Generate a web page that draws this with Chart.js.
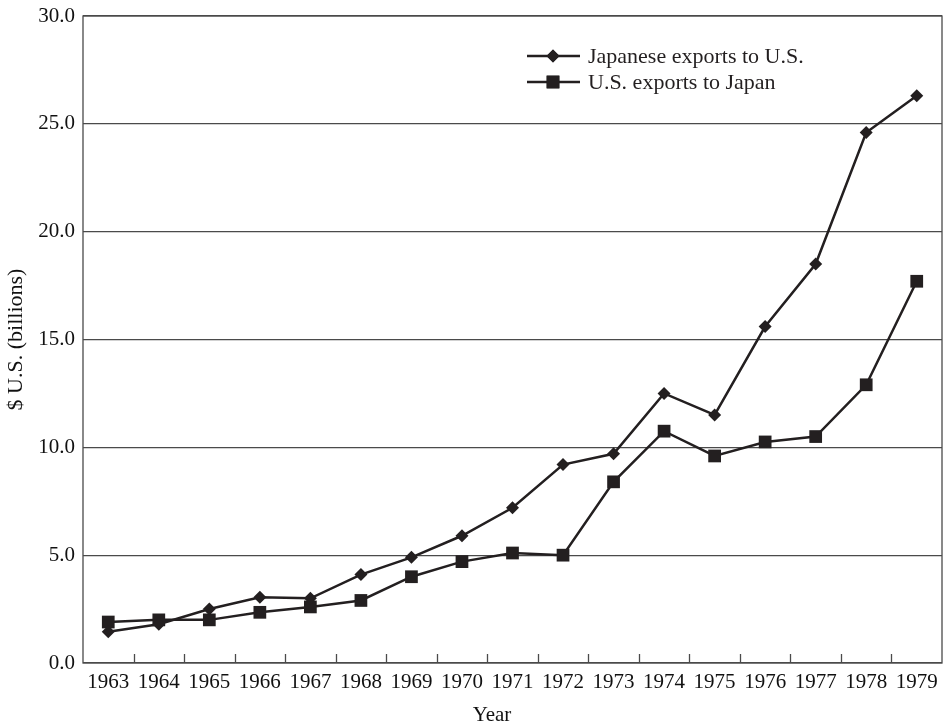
<!DOCTYPE html>
<html>
<head>
<meta charset="utf-8">
<script src="https://cdn.jsdelivr.net/npm/chart.js@4.4.0/dist/chart.umd.min.js"></script>
<style>
  html, body { margin: 0; padding: 0; background: #fff; }
</style>
</head>
<body>
<canvas id="grafico" width="951" height="725"></canvas>
<script>
// datos
const years = ["1963", "1964", "1965", "1966", "1967", "1968", "1969", "1970", "1971",
  "1972", "1973", "1974", "1975", "1976", "1977", "1978", "1979"];
const japanToUS = [1.45, 1.8, 2.5, 3.05, 3.0, 4.1, 4.9, 5.9, 7.2, 9.2, 9.7, 12.5, 11.5, 15.6, 18.5, 24.6, 26.3];
const usToJapan = [1.9, 2.0, 2.0, 2.35, 2.6, 2.9, 4.0, 4.7, 5.1, 5.0, 8.4, 10.75, 9.6, 10.25, 10.5, 12.9, 17.7];
const yTicks = [0, 5, 10, 15, 20, 25, 30];

const ink = "#231f20";
const frame = "#4a4a4a";
const serif = "'Liberation Serif', 'Times New Roman', serif";

// marco, marcas del eje x hacia adentro, titulo x y leyenda
const extras = {
  id: "extras",
  afterDatasetsDraw(chart) {
    const { ctx, chartArea: a, scales } = chart;
    ctx.save();
    ctx.strokeStyle = frame;
    ctx.lineWidth = 1.3;
    ctx.strokeRect(a.left, a.top, a.right - a.left, a.bottom - a.top);
    // marcas entre categorias
    for (let i = 1; i < years.length; i++) {
      const x = Math.round((scales.x.getPixelForValue(i - 1) + scales.x.getPixelForValue(i)) / 2) + 0.5;
      ctx.beginPath();
      ctx.moveTo(x, a.bottom);
      ctx.lineTo(x, a.bottom - 9);
      ctx.stroke();
    }
    // titulo del eje x
    ctx.fillStyle = "#111";
    ctx.font = "21px " + serif;
    ctx.textAlign = "center";
    ctx.textBaseline = "middle";
    ctx.fillText("Year", a.left + 409, a.bottom + 52);
    // leyenda
    ctx.textAlign = "left";
    const lx = a.left + 444, rows = [a.top + 40, a.top + 66];
    chart.data.datasets.forEach((ds, i) => {
      const y = rows[i];
      ctx.strokeStyle = ink;
      ctx.lineWidth = 2.5;
      ctx.beginPath();
      ctx.moveTo(lx, y);
      ctx.lineTo(lx + 53, y);
      ctx.stroke();
      ctx.fillStyle = ink;
      Chart.helpers.drawPoint(ctx, {
        pointStyle: ds.pointStyle, radius: ds.pointRadius, rotation: 0, borderWidth: 0
      }, lx + 26, y);
      ctx.fill();
      ctx.font = "22px " + serif;
      ctx.fillText(ds.label, lx + 61, y + 1);
    });
    ctx.restore();
  }
};

new Chart(document.getElementById("grafico").getContext("2d"), {
  type: "line",
  data: {
    labels: years,
    datasets: [
      {
        label: "Japanese exports to U.S.",
        data: japanToUS,
        borderColor: ink,
        backgroundColor: ink,
        borderWidth: 2.5,
        pointStyle: "rectRot",
        pointRadius: 6.5,
        pointBorderWidth: 0,
        tension: 0
      },
      {
        label: "U.S. exports to Japan",
        data: usToJapan,
        borderColor: ink,
        backgroundColor: ink,
        borderWidth: 2.5,
        pointStyle: "rect",
        pointRadius: 9,
        pointBorderWidth: 0,
        tension: 0
      }
    ]
  },
  options: {
    responsive: false,
    devicePixelRatio: 1,
    animation: false,
    layout: { padding: { top: 16, right: 8, left: 0, bottom: 0 } },
    plugins: {
      legend: { display: false },
      tooltip: { enabled: false }
    },
    scales: {
      x: {
        offset: true,
        grid: { display: false, drawTicks: false },
        border: { display: false },
        ticks: { color: "#111", padding: 7, maxRotation: 0, autoSkip: false, font: { family: serif, size: 21 } },
        afterFit(scale) { scale.height = 62; }
      },
      y: {
        min: 0,
        max: 30,
        afterBuildTicks(scale) { scale.ticks = yTicks.map(v => ({ value: v })); },
        grid: { color: frame, lineWidth: 1.3, drawTicks: false },
        border: { display: false },
        ticks: {
          color: "#111", padding: 8,
          font: { family: serif, size: 21, lineHeight: 0.7 },
          callback: v => v.toFixed(1)
        },
        title: { display: true, text: "$ U.S. (billions)", color: "#111", font: { family: serif, size: 22 }, padding: { top: 3, bottom: 0 } },
        afterFit(scale) { scale.width = 83; }
      }
    }
  },
  plugins: [extras]
});
</script>
</body>
</html>
